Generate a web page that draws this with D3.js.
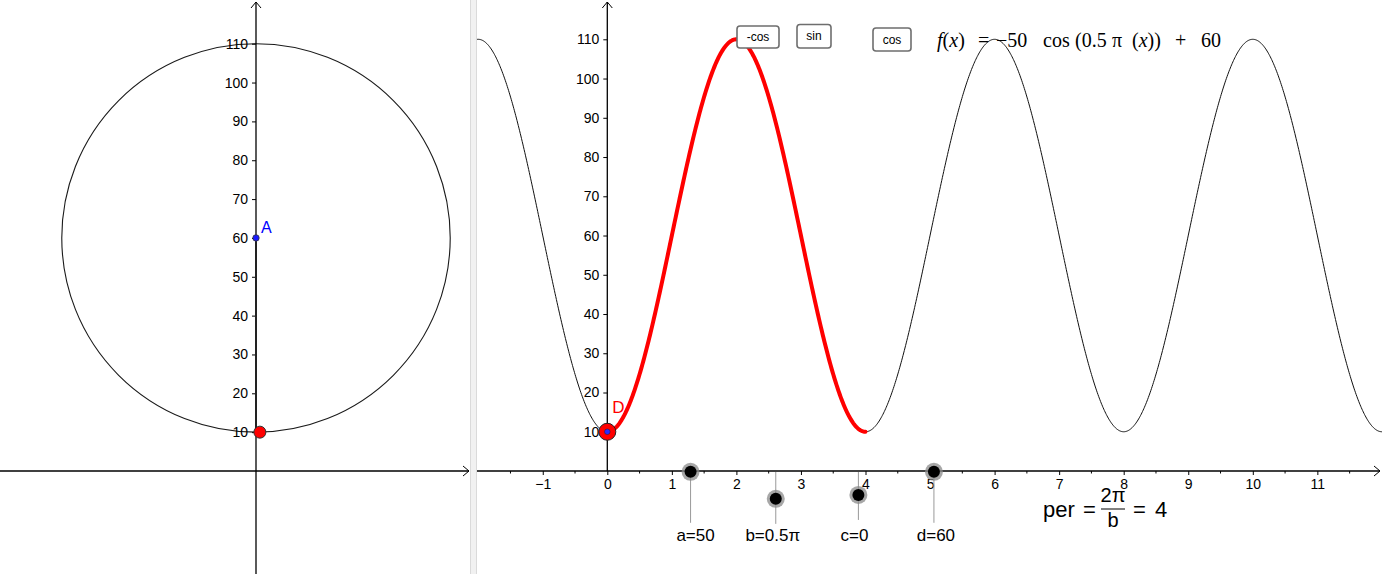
<!DOCTYPE html>
<html>
<head>
<meta charset="utf-8">
<script src="https://cdn.jsdelivr.net/npm/d3@7"></script>
<style>
  html, body { margin: 0; padding: 0; background: #fff; }
  svg { display: block; }
</style>
</head>
<body>
<svg id="chart" width="1382" height="574" font-family="Liberation Sans, Arial, sans-serif"></svg>
<script>
// ---------- data ----------
const paramNames  = ["a", "b", "c", "d"];
const paramValues = [50, 0.5 * Math.PI, 0, 60];
const paramLabels = ["a=50", "b=0.5π", "c=0", "d=60"];
const sliderX     = [1.29, 2.61, 3.89, 5.06];   // slider handle position (chart units)
const sliderY     = [-0.2, -7.1, -6.1, -0.2];
const yTicks      = [10, 20, 30, 40, 50, 60, 70, 80, 90, 100, 110];
const xTicks      = [-1, 0, 1, 2, 3, 4, 5, 6, 7, 8, 9, 10, 11];
const xMinorTicks = [-1.5, -0.5, 0.5, 1.5, 2.5, 3.5, 4.5, 5.5, 6.5, 7.5, 8.5, 9.5, 10.5, 11.5];
const buttonLabels = ["-cos", "sin", "cos"];
const highlightRange = [0, 4];
const pointD = { x: 0, y: 10, label: "D" };
const pointA = { x: 0, y: 60, label: "A" };
const circlePoint = { x: 1, y: 10 };

const [a, b, c, d] = paramValues;
const f = x => -a * Math.cos(b * (x - c)) + d;

const svg = d3.select("#chart");
const W = 1382, H = 574;
const FONT = "Liberation Sans, Arial, sans-serif";
const SERIF = "Liberation Serif, DejaVu Serif, serif";

// ---------- LEFT PANEL ----------
const L = svg.append("g");
const yL = d3.scaleLinear().domain([0, 110]).range([471, 43.7]);
const pxU = (yL(0) - yL(110)) / 110;
const xL = d3.scaleLinear().domain([0, 1]).range([256, 256 + pxU]);

L.append("circle")
  .attr("cx", xL(0)).attr("cy", yL(d))
  .attr("r", yL(0) - yL(a))
  .attr("fill", "none").attr("stroke", "#1a1a1a").attr("stroke-width", 1.1);

L.append("line").attr("x1", 0).attr("x2", 469).attr("y1", yL(0)).attr("y2", yL(0))
  .attr("stroke", "#000").attr("stroke-width", 1.3);
L.append("path").attr("d", `M463,${yL(0)-5} L469,${yL(0)} L463,${yL(0)+5}`)
  .attr("fill", "none").attr("stroke", "#000").attr("stroke-width", 1);
L.append("line").attr("x1", xL(0)).attr("x2", xL(0)).attr("y1", 2).attr("y2", H)
  .attr("stroke", "#000").attr("stroke-width", 1.3);
L.append("path").attr("d", `M${xL(0)-5},8 L${xL(0)},2 L${xL(0)+5},8`)
  .attr("fill", "none").attr("stroke", "#000").attr("stroke-width", 1);

const gyL = L.append("g").attr("transform", `translate(${xL(0)},0)`)
  .call(d3.axisLeft(yL).tickValues(yTicks).tickSize(4).tickPadding(4));
gyL.select(".domain").remove();
gyL.selectAll("line").attr("stroke", "#000");
gyL.selectAll("text").attr("font-size", 14).attr("font-family", FONT).attr("fill", "#000");

L.append("line").attr("x1", xL(0)).attr("x2", xL(0))
  .attr("y1", yL(pointA.y)).attr("y2", yL(circlePoint.y))
  .attr("stroke", "#222").attr("stroke-width", 2);

L.append("circle").attr("cx", xL(pointA.x)).attr("cy", yL(pointA.y)).attr("r", 3.2)
  .attr("fill", "#1a1aff").attr("stroke", "#333").attr("stroke-width", 0.8);
L.append("text").attr("x", xL(pointA.x) + 5).attr("y", yL(pointA.y) - 5)
  .attr("font-size", 16).attr("fill", "#0000ff").text(pointA.label);

L.append("circle").attr("cx", xL(circlePoint.x)).attr("cy", yL(circlePoint.y)).attr("r", 6)
  .attr("fill", "#ff0000").attr("stroke", "#333").attr("stroke-width", 1);

// ---------- DIVIDER ----------
svg.append("rect").attr("x", 470).attr("y", 0).attr("width", 7).attr("height", H).attr("fill", "#f1f1f1");
svg.append("line").attr("x1", 470.5).attr("x2", 470.5).attr("y1", 0).attr("y2", H).attr("stroke", "#dadada");
svg.append("line").attr("x1", 476.5).attr("x2", 476.5).attr("y1", 0).attr("y2", H).attr("stroke", "#dadada");

// ---------- RIGHT PANEL ----------
const R = svg.append("g");
const x0px = 607.3, unitX = 64.55;
const panelLeft = 477, panelRight = W;
const xR = d3.scaleLinear().domain([0, 1]).range([x0px, x0px + unitX]);
const yR = d3.scaleLinear().domain([0, 110]).range([471, 39.3]);

svg.append("defs").append("clipPath").attr("id", "clipR")
  .append("rect").attr("x", panelLeft).attr("y", 0).attr("width", panelRight - panelLeft).attr("height", H);

R.append("line").attr("x1", panelLeft).attr("x2", 1380).attr("y1", yR(0)).attr("y2", yR(0))
  .attr("stroke", "#000").attr("stroke-width", 1.3);
R.append("path").attr("d", `M1374,${yR(0)-5} L1380,${yR(0)} L1374,${yR(0)+5}`)
  .attr("fill", "none").attr("stroke", "#000").attr("stroke-width", 1);
const gxR = R.append("g").attr("transform", `translate(0,${yR(0)})`)
  .call(d3.axisBottom(xR).tickValues(xTicks).tickSize(4).tickPadding(4)
    .tickFormat(v => v < 0 ? "−" + Math.abs(v) : String(v)));
gxR.select(".domain").remove();
gxR.selectAll("line").attr("stroke", "#000");
gxR.selectAll("text").attr("font-size", 14).attr("font-family", FONT).attr("fill", "#000");
R.append("g").selectAll("line").data(xMinorTicks).join("line")
  .attr("x1", v => xR(v)).attr("x2", v => xR(v))
  .attr("y1", yR(0)).attr("y2", yR(0) + 2.5)
  .attr("stroke", "#000");

R.append("line").attr("x1", xR(0)).attr("x2", xR(0)).attr("y1", 2).attr("y2", yR(0))
  .attr("stroke", "#000").attr("stroke-width", 1.3);
R.append("path").attr("d", `M${xR(0)-5},8 L${xR(0)},2 L${xR(0)+5},8`)
  .attr("fill", "none").attr("stroke", "#000").attr("stroke-width", 1);
const gyR = R.append("g").attr("transform", `translate(${xR(0)},0)`)
  .call(d3.axisLeft(yR).tickValues(yTicks).tickSize(4).tickPadding(4));
gyR.select(".domain").remove();
gyR.selectAll("line").attr("stroke", "#000");
gyR.selectAll("text").attr("font-size", 14).attr("font-family", FONT).attr("fill", "#000");

// function curve
const xDomainR = [xR.invert(panelLeft), xR.invert(panelRight)];
const samples = d3.range(xDomainR[0], xDomainR[1] + 0.01, 0.01);
const line = d3.line().x(v => xR(v)).y(v => yR(f(v)));
R.append("path").attr("clip-path", "url(#clipR)")
  .attr("d", line(samples)).attr("fill", "none").attr("stroke", "#111").attr("stroke-width", 1);

const hs = d3.range(highlightRange[0], highlightRange[1] + 0.005, 0.01);
R.append("path").attr("d", line(hs)).attr("fill", "none")
  .attr("stroke", "#ff0000").attr("stroke-width", 4).attr("stroke-linecap", "round");

// point D
R.append("circle").attr("cx", xR(pointD.x)).attr("cy", yR(pointD.y)).attr("r", 8.5)
  .attr("fill", "#ff0000").attr("stroke", "#222").attr("stroke-width", 1);
R.append("circle").attr("cx", xR(pointD.x)).attr("cy", yR(pointD.y)).attr("r", 2.8)
  .attr("fill", "#2a2aff").attr("stroke", "#222").attr("stroke-width", 0.5);
R.append("text").attr("x", xR(pointD.x) + 5).attr("y", yR(pointD.y) - 19)
  .attr("font-size", 17).attr("fill", "#ff0000").text(pointD.label);

// sliders
const sliders = paramNames.map((n, i) => ({ name: n, label: paramLabels[i], x: sliderX[i], y: sliderY[i] }));
const sg = R.append("g").selectAll("g").data(sliders).join("g");
sg.append("line")
  .attr("x1", s => xR(s.x)).attr("x2", s => xR(s.x))
  .attr("y1", s => s.y < -1 ? yR(0) + 1 : yR(s.y))
  .attr("y2", s => yR(s.y) + (s.y < -1 ? 25 : 51))
  .attr("stroke", "#999").attr("stroke-width", 1);
sg.append("circle").attr("cx", s => xR(s.x)).attr("cy", s => yR(s.y)).attr("r", 9)
  .attr("fill", "#8a8a8a").attr("fill-opacity", 0.75);
sg.append("circle").attr("cx", s => xR(s.x)).attr("cy", s => yR(s.y)).attr("r", 6)
  .attr("fill", "#000");
const labelOffsets = [5, -3, -4, 2];
sg.append("text")
  .attr("x", (s, i) => xR(s.x) + labelOffsets[i])
  .attr("y", 541)
  .attr("text-anchor", "middle")
  .attr("font-size", 17).attr("fill", "#000")
  .text(s => s.label);

// buttons
const buttonBoxes = [
  { x: 737, y: 26, w: 42, h: 22 },
  { x: 797, y: 24.5, w: 34, h: 23.5 },
  { x: 873, y: 28, w: 38, h: 23 }
];
const bg = svg.append("g").selectAll("g").data(buttonLabels).join("g");
bg.append("rect")
  .attr("x", (t, i) => buttonBoxes[i].x).attr("y", (t, i) => buttonBoxes[i].y)
  .attr("width", (t, i) => buttonBoxes[i].w).attr("height", (t, i) => buttonBoxes[i].h)
  .attr("rx", 3).attr("fill", "#fff").attr("stroke", "#6e6e6e").attr("stroke-width", 1.6);
bg.append("text")
  .attr("x", (t, i) => buttonBoxes[i].x + buttonBoxes[i].w / 2)
  .attr("y", (t, i) => buttonBoxes[i].y + buttonBoxes[i].h / 2 + 4)
  .attr("text-anchor", "middle").attr("font-size", 12).attr("fill", "#000")
  .text(t => t);

// formula f(x)
const fx = svg.append("text").attr("y", 47).attr("font-family", SERIF).attr("font-size", 20).attr("fill", "#000");
const pieces = [
  { t: "f", x: 937, it: true }, { t: "(", it: false }, { t: "x", it: true }, { t: ")", it: false },
  { t: "=", x: 978 }, { t: "−50", x: 996 }, { t: "cos", x: 1043 }, { t: "(0.5", x: 1075 },
  { t: "π", x: 1112 }, { t: "(", x: 1132 }, { t: "x", it: true }, { t: "))", it: false },
  { t: "+", x: 1175 }, { t: "60", x: 1201 }
];
pieces.forEach(p => {
  const ts = fx.append("tspan").text(p.t);
  if (p.x !== undefined) ts.attr("x", p.x);
  if (p.it) ts.attr("font-style", "italic");
});

// per formula
const per = svg.append("g").attr("font-family", FONT).attr("fill", "#000");
per.append("text").attr("x", 1043).attr("y", 517).attr("font-size", 22).text("per");
per.append("text").attr("x", 1083).attr("y", 517).attr("font-size", 22).text("=");
per.append("text").attr("x", 1113).attr("y", 502).attr("text-anchor", "middle").attr("font-size", 20).text("2π");
per.append("line").attr("x1", 1101).attr("x2", 1125).attr("y1", 509).attr("y2", 509).attr("stroke", "#000").attr("stroke-width", 1);
per.append("text").attr("x", 1113).attr("y", 527).attr("text-anchor", "middle").attr("font-size", 20).text("b");
per.append("text").attr("x", 1133).attr("y", 517).attr("font-size", 22).text("=");
per.append("text").attr("x", 1155).attr("y", 517).attr("font-size", 22).text("4");
</script>
</body>
</html>
